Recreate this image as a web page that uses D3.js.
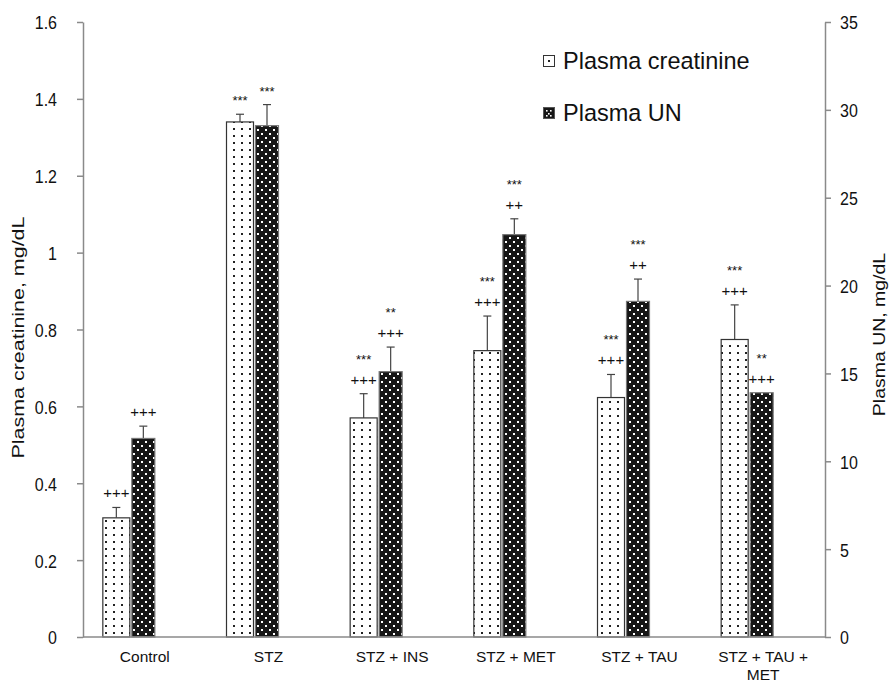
<!DOCTYPE html>
<html>
<head>
<meta charset="utf-8">
<script src="https://cdn.jsdelivr.net/npm/d3@7"></script>
<style>
  html, body { margin: 0; padding: 0; background: #fff; }
  svg { display: block; font-family: "Liberation Sans", Arial, sans-serif; }
</style>
</head>
<body>
<svg id="chart" width="889" height="683"></svg>
<script>
// Groups on the x axis
const categories = ["Control", "STZ", "STZ + INS", "STZ + MET", "STZ + TAU", "STZ + TAU + MET"];

// Plasma creatinine (mg/dL, left axis): mean and SEM
const creatinine    = [0.31, 1.34, 0.57, 0.745, 0.623, 0.774];
const creatinineErr = [0.027, 0.02, 0.063, 0.09, 0.06, 0.09];

// Plasma urea nitrogen (mg/dL, right axis): mean and SEM
const urea    = [11.3, 29.1, 15.1, 22.9, 19.1, 13.9];
const ureaErr = [0.7, 1.2, 1.4, 0.9, 1.27, 0];

// Significance marks, listed from the bar upward
const creatinineMarks = [["+++"], ["***"], ["+++", "***"], ["+++", "***"], ["+++", "***"], ["+++", "***"]];
const ureaMarks       = [["+++"], ["***"], ["+++", "**"], ["++", "***"], ["++", "***"], ["+++", "**"]];

// Axis ticks
const leftTicks  = [0, 0.2, 0.4, 0.6, 0.8, 1, 1.2, 1.4, 1.6];
const rightTicks = [0, 5, 10, 15, 20, 25, 30, 35];

const legendLabels = ["Plasma creatinine", "Plasma UN"];

const svg = d3.select("#chart");
const margin = { left: 83, right: 64, top: 22, bottom: 46 };
const W = 889, H = 683;
const stretch = 1.2;          // text glyphs are drawn slightly tall

const x = d3.scaleBand().domain(categories).range([margin.left, W - margin.right]);
const yL = d3.scaleLinear().domain([0, 1.6]).range([H - margin.bottom, margin.top]);
const yR = d3.scaleLinear().domain([0, 35]).range([H - margin.bottom, margin.top]);

// Fill patterns
const defs = svg.append("defs");
const pLight = defs.append("pattern").attr("id", "dotsLight")
  .attr("patternUnits", "userSpaceOnUse").attr("width", 8).attr("height", 7);
pLight.append("rect").attr("width", 8).attr("height", 7).attr("fill", "#fff");
pLight.append("rect").attr("x", 1).attr("y", 2).attr("width", 2).attr("height", 2).attr("fill", "#222");

const pDark = defs.append("pattern").attr("id", "dotsDark")
  .attr("patternUnits", "userSpaceOnUse").attr("width", 8).attr("height", 8);
pDark.append("rect").attr("width", 8).attr("height", 8).attr("fill", "#161616");
pDark.append("rect").attr("x", 1).attr("y", 1).attr("width", 2).attr("height", 2).attr("fill", "#fff");
pDark.append("rect").attr("x", 5).attr("y", 5).attr("width", 2).attr("height", 2).attr("fill", "#fff");

const axisColor = "#8a8a8a";

// Bar geometry relative to the band centre
const lightOffset = -42.5, lightWidth = 28;
const darkOffset = -13.5, darkWidth = 24;

const series = [
  { vals: creatinine, errs: creatinineErr, marks: creatinineMarks, y: yL,
    off: lightOffset, w: lightWidth, fill: "url(#dotsLight)", stroke: "#333" },
  { vals: urea, errs: ureaErr, marks: ureaMarks, y: yR,
    off: darkOffset, w: darkWidth, fill: "url(#dotsDark)", stroke: "#777" }
];

const center = c => x(c) + x.bandwidth() / 2;

series.forEach(s => {
  const g = svg.append("g");
  const rows = categories.map((c, i) => ({ c, v: s.vals[i], e: s.errs[i], m: s.marks[i] }));

  // error bars (drawn first, bars cover the lower half)
  const eg = g.selectAll("g.err").data(rows.filter(d => d.e > 0)).join("g").attr("class", "err");
  eg.append("line")
    .attr("x1", d => center(d.c) + s.off + s.w / 2).attr("x2", d => center(d.c) + s.off + s.w / 2)
    .attr("y1", d => s.y(d.v)).attr("y2", d => s.y(d.v + d.e))
    .attr("stroke", "#444").attr("stroke-width", 1.2);
  eg.append("line")
    .attr("x1", d => center(d.c) + s.off + s.w / 2 - 4).attr("x2", d => center(d.c) + s.off + s.w / 2 + 4)
    .attr("y1", d => s.y(d.v + d.e)).attr("y2", d => s.y(d.v + d.e))
    .attr("stroke", "#444").attr("stroke-width", 1.2);

  g.selectAll("rect.bar").data(rows).join("rect").attr("class", "bar")
    .attr("x", d => center(d.c) + s.off + 0.5)
    .attr("y", d => s.y(d.v))
    .attr("width", s.w - 1)
    .attr("height", d => s.y(0) - s.y(d.v))
    .attr("fill", s.fill).attr("stroke", s.stroke).attr("stroke-width", 1.2);

  // significance marks stacked above each bar
  rows.forEach(d => {
    const top = s.y(d.v + d.e);
    d.m.forEach((t, k) => {
      g.append("text")
        .attr("x", center(d.c) + s.off + s.w / 2)
        .attr("y", top - 9 - k * 21)
        .attr("text-anchor", "middle")
        .attr("font-size", t.includes("*") ? 13 : 15)
        .attr("fill", "#111")
        .text(t);
    });
  });
});

// Left axis
const axL = svg.append("g").attr("transform", `translate(${margin.left},0)`)
  .call(d3.axisLeft(yL).tickValues(leftTicks).tickFormat(d => String(+d.toFixed(1))).tickSize(6).tickPadding(20).tickSizeOuter(0));
// Right axis
const axR = svg.append("g").attr("transform", `translate(${W - margin.right},0)`)
  .call(d3.axisRight(yR).tickValues(rightTicks).tickSize(6).tickPadding(9).tickSizeOuter(0));
[axL, axR].forEach(a => {
  a.select(".domain").attr("stroke", axisColor).attr("stroke-width", 1.5);
  a.selectAll(".tick line").attr("stroke", axisColor).attr("stroke-width", 1.5);
  a.selectAll(".tick text").attr("font-size", 16).attr("fill", "#111")
    .attr("font-family", "'Liberation Sans', Arial, sans-serif")
    .attr("dy", null).attr("y", 0)
    .attr("transform", `translate(0,${0.36 * 16 * stretch}) scale(1,${stretch})`);
});

// Baseline
svg.append("line")
  .attr("x1", margin.left).attr("x2", W - margin.right)
  .attr("y1", yL(0)).attr("y2", yL(0))
  .attr("stroke", axisColor).attr("stroke-width", 1.5);

// Category labels (wrapped at the last "+")
categories.forEach(c => {
  const lines = c === "STZ + TAU + MET" ? ["STZ + TAU +", "MET"] : [c];
  lines.forEach((l, k) => {
    svg.append("text").attr("text-anchor", "middle").attr("font-size", 15.5).attr("fill", "#111")
      .attr("x", center(c)).attr("y", yL(0) + 25 + k * 17.5)
      .text(l);
  });
});

// Axis titles (stretched along their length)
svg.append("text").attr("transform", `translate(24,${(yL(0) + yL(1.6)) / 2 + 8}) rotate(-90) scale(1.3,1)`)
  .attr("text-anchor", "middle").attr("font-size", 16.5).attr("fill", "#111")
  .text("Plasma creatinine, mg/dL");
svg.append("text").attr("transform", `translate(885,${(yR(0) + yR(35)) / 2 + 5}) rotate(-90) scale(1.18,1)`)
  .attr("text-anchor", "middle").attr("font-size", 16.5).attr("fill", "#111")
  .text("Plasma UN, mg/dL");

// Legend
const lg = svg.append("g").attr("transform", "translate(543,52)");
const legendFills = [
  { fill: "#fff", stroke: "#333" },
  { fill: "#161616", stroke: "#555" }
];
legendLabels.forEach((lab, i) => {
  const row = lg.append("g").attr("transform", `translate(0,${i * 52})`);
  row.append("rect").attr("x", 0.5).attr("y", 3.5).attr("width", 11).attr("height", 11)
    .attr("fill", legendFills[i].fill).attr("stroke", legendFills[i].stroke).attr("stroke-width", 1);
  if (i === 0) {
    row.append("rect").attr("x", 5).attr("y", 8).attr("width", 2).attr("height", 2).attr("fill", "#222");
  } else {
    [[3, 6], [7, 6], [5, 9], [3, 11], [7, 11]].forEach(p =>
      row.append("rect").attr("x", p[0]).attr("y", p[1]).attr("width", 1.6).attr("height", 1.6).attr("fill", "#fff"));
  }
  row.append("text").attr("font-size", 23.5).attr("fill", "#111")
    .attr("transform", `translate(20,17) scale(1,1.05)`).text(lab);
});
</script>
</body>
</html>
